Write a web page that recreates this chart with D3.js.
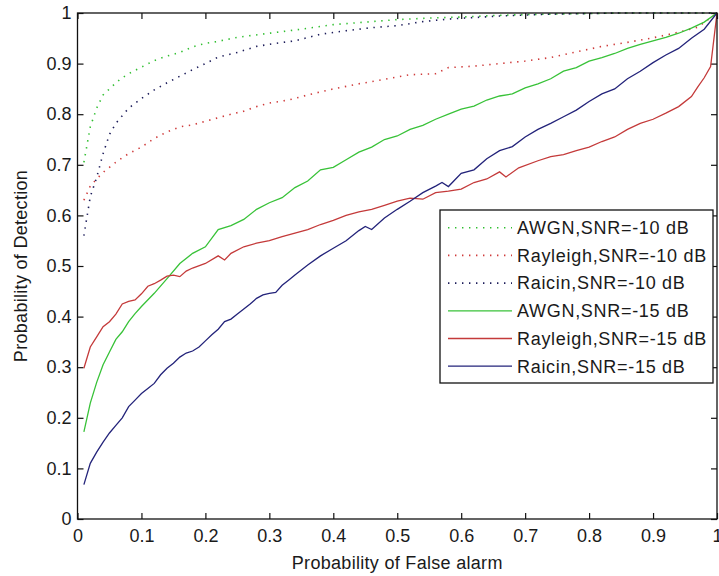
<!DOCTYPE html>
<html>
<head>
<meta charset="utf-8">
<script src="https://cdn.jsdelivr.net/npm/d3@7"></script>
<style>
  body { margin: 0; background: #fff; }
  text { font-family: Arial, "Liberation Sans", sans-serif; fill: #1a1a1a; }
</style>
</head>
<body>
<div id="chart"></div>
<script>
"use strict";

const width = 719;
const height = 576;
const margin = { left: 77.5, right: 2, top: 13, bottom: 57 };

// Probability of false alarm / detection
const awgn10 = [
  [0.01, 0.705], [0.02, 0.775], [0.03, 0.812], [0.04, 0.838], [0.05, 0.85],
  [0.06, 0.862], [0.07, 0.872], [0.08, 0.88], [0.10, 0.893], [0.12, 0.906],
  [0.14, 0.915], [0.16, 0.922], [0.18, 0.933], [0.20, 0.94], [0.22, 0.944],
  [0.25, 0.952], [0.30, 0.96], [0.35, 0.968], [0.40, 0.977], [0.45, 0.982],
  [0.50, 0.987], [0.55, 0.99], [0.60, 0.992], [0.65, 0.995], [0.70, 0.997],
  [0.75, 0.998], [0.80, 0.999], [0.85, 1.0], [0.90, 1.0], [0.95, 1.0], [1.00, 1.0]
];

const rayleigh10 = [
  [0.01, 0.63], [0.02, 0.658], [0.03, 0.672], [0.04, 0.685], [0.05, 0.695],
  [0.06, 0.705], [0.07, 0.714], [0.08, 0.722], [0.10, 0.735], [0.12, 0.752],
  [0.14, 0.765], [0.16, 0.775], [0.18, 0.779], [0.20, 0.786], [0.22, 0.793],
  [0.24, 0.80], [0.26, 0.806], [0.28, 0.815], [0.30, 0.822], [0.33, 0.828],
  [0.36, 0.838], [0.40, 0.85], [0.44, 0.86], [0.48, 0.869], [0.52, 0.878],
  [0.56, 0.88], [0.58, 0.892], [0.62, 0.895], [0.66, 0.90], [0.70, 0.905],
  [0.74, 0.912], [0.78, 0.923], [0.82, 0.934], [0.86, 0.942], [0.90, 0.951],
  [0.94, 0.962], [0.97, 0.972], [1.00, 1.0]
];

const raicin10 = [
  [0.01, 0.56], [0.02, 0.637], [0.03, 0.675], [0.04, 0.722], [0.05, 0.76],
  [0.06, 0.782], [0.07, 0.797], [0.08, 0.812], [0.10, 0.831], [0.12, 0.848],
  [0.14, 0.862], [0.16, 0.875], [0.18, 0.888], [0.20, 0.90], [0.22, 0.913],
  [0.25, 0.922], [0.28, 0.934], [0.31, 0.94], [0.34, 0.945], [0.38, 0.958],
  [0.42, 0.965], [0.46, 0.971], [0.50, 0.975], [0.54, 0.983], [0.58, 0.988],
  [0.62, 0.991], [0.66, 0.994], [0.70, 0.996], [0.75, 0.998], [0.80, 0.999],
  [0.85, 1.0], [0.90, 1.0], [0.95, 1.0], [1.00, 1.0]
];

const awgn15 = [
  [0.01, 0.172], [0.02, 0.229], [0.03, 0.27], [0.04, 0.305], [0.05, 0.33],
  [0.06, 0.355], [0.07, 0.37], [0.08, 0.39], [0.09, 0.406], [0.10, 0.42],
  [0.12, 0.446], [0.14, 0.475], [0.16, 0.505], [0.18, 0.525], [0.20, 0.538],
  [0.22, 0.572], [0.24, 0.58], [0.26, 0.592], [0.28, 0.612], [0.30, 0.625],
  [0.32, 0.635], [0.34, 0.655], [0.36, 0.668], [0.38, 0.69], [0.40, 0.695],
  [0.42, 0.71], [0.44, 0.725], [0.46, 0.735], [0.48, 0.75], [0.50, 0.757],
  [0.52, 0.77], [0.54, 0.778], [0.56, 0.79], [0.58, 0.80], [0.60, 0.81],
  [0.62, 0.816], [0.64, 0.828], [0.66, 0.836], [0.68, 0.84], [0.70, 0.852],
  [0.72, 0.86], [0.74, 0.87], [0.76, 0.885], [0.78, 0.892], [0.80, 0.905],
  [0.82, 0.912], [0.84, 0.92], [0.86, 0.93], [0.88, 0.938], [0.90, 0.945],
  [0.92, 0.952], [0.94, 0.96], [0.96, 0.97], [0.98, 0.982], [1.00, 1.0]
];

const rayleigh15 = [
  [0.01, 0.298], [0.02, 0.34], [0.03, 0.36], [0.04, 0.38], [0.05, 0.39],
  [0.06, 0.405], [0.07, 0.425], [0.08, 0.43], [0.09, 0.433], [0.10, 0.445],
  [0.11, 0.46], [0.12, 0.465], [0.13, 0.472], [0.14, 0.48], [0.15, 0.482],
  [0.16, 0.479], [0.17, 0.49], [0.18, 0.496], [0.20, 0.505], [0.22, 0.52],
  [0.23, 0.512], [0.24, 0.525], [0.26, 0.538], [0.28, 0.545], [0.30, 0.55],
  [0.32, 0.558], [0.34, 0.565], [0.36, 0.572], [0.38, 0.582], [0.40, 0.59],
  [0.42, 0.60], [0.44, 0.607], [0.46, 0.612], [0.48, 0.62], [0.50, 0.628],
  [0.52, 0.634], [0.54, 0.632], [0.56, 0.645], [0.58, 0.648], [0.60, 0.652],
  [0.62, 0.665], [0.64, 0.672], [0.66, 0.686], [0.67, 0.676], [0.69, 0.694],
  [0.72, 0.708], [0.74, 0.716], [0.76, 0.72], [0.78, 0.728], [0.80, 0.735],
  [0.82, 0.746], [0.84, 0.755], [0.86, 0.77], [0.88, 0.782], [0.90, 0.79],
  [0.92, 0.802], [0.94, 0.815], [0.96, 0.835], [0.97, 0.854], [0.98, 0.872],
  [0.99, 0.894], [1.00, 1.0]
];

const raicin15 = [
  [0.01, 0.068], [0.02, 0.11], [0.03, 0.132], [0.04, 0.152], [0.05, 0.17],
  [0.06, 0.185], [0.07, 0.20], [0.08, 0.222], [0.09, 0.235], [0.10, 0.248],
  [0.11, 0.258], [0.12, 0.268], [0.13, 0.285], [0.14, 0.298], [0.15, 0.308],
  [0.16, 0.32], [0.17, 0.328], [0.18, 0.332], [0.19, 0.34], [0.20, 0.352],
  [0.21, 0.364], [0.22, 0.375], [0.23, 0.39], [0.24, 0.395], [0.25, 0.405],
  [0.26, 0.415], [0.27, 0.425], [0.28, 0.436], [0.29, 0.443], [0.30, 0.446],
  [0.31, 0.448], [0.32, 0.462], [0.33, 0.472], [0.34, 0.482], [0.36, 0.502],
  [0.38, 0.52], [0.40, 0.535], [0.42, 0.55], [0.44, 0.57], [0.45, 0.578],
  [0.46, 0.572], [0.48, 0.595], [0.50, 0.612], [0.52, 0.628], [0.54, 0.645],
  [0.56, 0.658], [0.57, 0.665], [0.58, 0.657], [0.60, 0.683], [0.62, 0.69],
  [0.64, 0.712], [0.66, 0.728], [0.68, 0.736], [0.70, 0.755], [0.72, 0.77],
  [0.74, 0.782], [0.76, 0.795], [0.78, 0.808], [0.80, 0.825], [0.82, 0.84],
  [0.84, 0.85], [0.86, 0.87], [0.88, 0.885], [0.90, 0.902], [0.92, 0.917],
  [0.94, 0.93], [0.96, 0.95], [0.98, 0.968], [1.00, 1.0]
];

const seriesNames = [
  "AWGN,SNR=-10 dB", "Rayleigh,SNR=-10 dB", "Raicin,SNR=-10 dB",
  "AWGN,SNR=-15 dB", "Rayleigh,SNR=-15 dB", "Raicin,SNR=-15 dB"
];
const seriesData = [awgn10, rayleigh10, raicin10, awgn15, rayleigh15, raicin15];

const xTicks = [0, 0.1, 0.2, 0.3, 0.4, 0.5, 0.6, 0.7, 0.8, 0.9, 1];
const yTicks = [0, 0.1, 0.2, 0.3, 0.4, 0.5, 0.6, 0.7, 0.8, 0.9, 1];

const styles = [
  { color: "#2fbf2f", dash: "1.4 5.6" },
  { color: "#cf3a3a", dash: "1.4 5.6" },
  { color: "#1c1c5a", dash: "1.4 5.6" },
  { color: "#38c238", dash: null },
  { color: "#c43a3a", dash: null },
  { color: "#23237a", dash: null }
];

const svg = d3.select("#chart").append("svg")
  .attr("width", width)
  .attr("height", height)
  .style("background", "#fff");

const x = d3.scaleLinear().domain([0, 1]).range([margin.left, 717]);
const y = d3.scaleLinear().domain([0, 1]).range([519, margin.top]);

function fmt(d) {
  return d === 0 || d === 1 ? String(d) : d3.format(".1f")(d);
}

// axes, ticks pointing inward like MATLAB
const xAxis = svg.append("g")
  .attr("transform", "translate(0," + y(0) + ")")
  .call(d3.axisBottom(x).tickValues(xTicks).tickFormat(fmt)
    .tickSizeInner(-6).tickSizeOuter(0).tickPadding(10));

const xAxisTop = svg.append("g")
  .attr("transform", "translate(0," + y(1) + ")")
  .call(d3.axisTop(x).tickValues(xTicks).tickFormat("")
    .tickSizeInner(-6).tickSizeOuter(0));

const yAxis = svg.append("g")
  .attr("transform", "translate(" + x(0) + ",0)")
  .call(d3.axisLeft(y).tickValues(yTicks).tickFormat(fmt)
    .tickSizeInner(-6).tickSizeOuter(0).tickPadding(6));

const yAxisRight = svg.append("g")
  .attr("transform", "translate(" + x(1) + ",0)")
  .call(d3.axisRight(y).tickValues(yTicks).tickFormat("")
    .tickSizeInner(-6).tickSizeOuter(0));

[xAxis, xAxisTop, yAxis, yAxisRight].forEach(function(g) {
  g.select(".domain").remove();
  g.selectAll("line").attr("stroke", "#111").attr("stroke-width", 1.2);
  g.selectAll("text")
    .style("font-size", "18px")
    .style("font-family", "Arial, 'Liberation Sans', sans-serif")
    .attr("fill", "#1a1a1a");
});

// plot lines
const line = d3.line()
  .x(function(d) { return x(d[0]); })
  .y(function(d) { return y(d[1]); });

const plot = svg.append("g");

seriesData.forEach(function(data, i) {
  plot.append("path")
    .datum(data)
    .attr("d", line)
    .attr("fill", "none")
    .attr("stroke", styles[i].color)
    .attr("stroke-width", styles[i].dash ? 1.6 : 1.3)
    .attr("stroke-dasharray", styles[i].dash);
});

// axes box
svg.append("rect")
  .attr("x", x(0))
  .attr("y", y(1))
  .attr("width", x(1) - x(0))
  .attr("height", y(0) - y(1))
  .attr("fill", "none")
  .attr("stroke", "#111")
  .attr("stroke-width", 1.3);

// axis labels
svg.append("text")
  .attr("x", (x(0) + x(1)) / 2)
  .attr("y", 569)
  .attr("text-anchor", "middle")
  .style("font-size", "18px")
  .style("letter-spacing", "0.3px")
  .text("Probability of False alarm");

svg.append("text")
  .attr("transform", "translate(27," + (y(0) + y(1)) / 2 + ") rotate(-90)")
  .attr("text-anchor", "middle")
  .style("font-size", "18px")
  .style("letter-spacing", "0.3px")
  .text("Probability of Detection");

// legend
const legend = svg.append("g");

legend.append("rect")
  .attr("x", 440)
  .attr("y", 210)
  .attr("width", 273)
  .attr("height", 173)
  .attr("fill", "#fff")
  .attr("stroke", "#111")
  .attr("stroke-width", 1.3);

const rows = legend.selectAll(".row")
  .data(seriesNames)
  .join("g")
  .attr("class", "row")
  .attr("transform", function(d, i) {
    return "translate(0," + (227.7 + i * 27.7) + ")";
  });

rows.append("line")
  .attr("x1", 448)
  .attr("x2", 512)
  .attr("stroke", function(d, i) { return styles[i].color; })
  .attr("stroke-width", function(d, i) { return styles[i].dash ? 1.6 : 1.3; })
  .attr("stroke-dasharray", function(d, i) { return styles[i].dash; });

rows.append("text")
  .attr("x", 517)
  .attr("dy", "0.35em")
  .style("font-size", "18px")
  .style("letter-spacing", "0.7px")
  .text(function(d) { return d; });
</script>
</body>
</html>
